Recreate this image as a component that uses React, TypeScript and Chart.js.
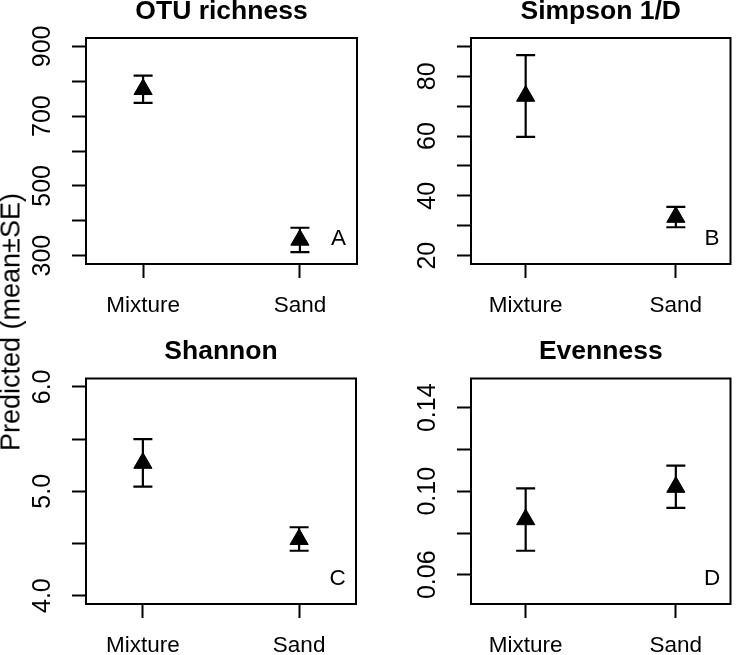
import React, { useEffect, useRef } from 'react';
import { Chart, registerables } from 'chart.js';

Chart.register(...registerables);

const FONT = "'Liberation Sans', Arial, Helvetica, sans-serif";

const categories = ['Mixture', 'Sand'];

const otuMean = [777, 345];
const otuLo = [738, 310];
const otuHi = [816, 380];
const otuTicks = [300, 400, 500, 600, 700, 800, 900];
const otuTickLabels = ['300', '500', '700', '900'];

const simpsonMean = [73.4, 32.9];
const simpsonLo = [59.7, 29.5];
const simpsonHi = [87.1, 36.3];
const simpsonTicks = [20, 30, 40, 50, 60, 70, 80, 90];
const simpsonTickLabels = ['20', '40', '60', '80'];

const shannonMean = [5.27, 4.54];
const shannonLo = [5.045, 4.43];
const shannonHi = [5.5, 4.655];
const shannonTicks = [4.0, 4.5, 5.0, 5.5, 6.0];
const shannonTickLabels = ['4.0', '5.0', '6.0'];

const evenMean = [0.0865, 0.102];
const evenLo = [0.0715, 0.092];
const evenHi = [0.1014, 0.1123];
const evenTicks = [0.06, 0.08, 0.1, 0.12, 0.14];
const evenTickLabels = ['0.06', '0.10', '0.14'];

const titles = ['OTU richness', 'Simpson 1/D', 'Shannon', 'Evenness'];
const letters = ['A', 'B', 'C', 'D'];
const yLimits = [
  [300, 900],
  [20, 90],
  [4, 6],
  [0.05, 0.15],
];
const xLimits = [0.7, 2.3];
const yLabel = 'Predicted (mean±SE)';

// R-style 4% axis extension
function ext(lim: number[]) {
  const d = (lim[1] - lim[0]) * 0.04;
  return [lim[0] - d, lim[1] + d];
}

const series = [
  { mean: otuMean, lo: otuLo, hi: otuHi, ticks: otuTicks, labels: otuTickLabels },
  { mean: simpsonMean, lo: simpsonLo, hi: simpsonHi, ticks: simpsonTicks, labels: simpsonTickLabels },
  { mean: shannonMean, lo: shannonLo, hi: shannonHi, ticks: shannonTicks, labels: shannonTickLabels },
  { mean: evenMean, lo: evenLo, hi: evenHi, ticks: evenTicks, labels: evenTickLabels },
];

// layout of the four canvases (left, top, width, height) and chart-area padding
const layouts = [
  { left: 0, top: 0, w: 371, h: 325, pad: { left: 86, top: 38, right: 14, bottom: 61 } },
  { left: 371, top: 0, w: 371, h: 325, pad: { left: 100, top: 38, right: 1.5, bottom: 61 } },
  { left: 0, top: 325, w: 371, h: 330, pad: { left: 86, top: 53.5, right: 15, bottom: 51 } },
  { left: 371, top: 325, w: 371, h: 330, pad: { left: 100, top: 53.5, right: 1.5, bottom: 51 } },
];

function Panel({ idx }: { idx: number }) {
  const ref = useRef<HTMLCanvasElement>(null);
  useEffect(() => {
    const s = series[idx];
    const lay = layouts[idx];
    const yr = ext(yLimits[idx]);
    const xr = ext(xLimits);
    const labelValues = s.labels.map((t) => parseFloat(t));

    const deco = {
      id: 'deco',
      beforeDatasetsDraw(chart: any) {
        const { ctx } = chart;
        const xs = chart.scales.x;
        const ys = chart.scales.y;
        ctx.save();
        ctx.strokeStyle = '#000';
        ctx.lineWidth = 2.2;
        ctx.lineCap = 'butt';
        s.mean.forEach((_m: number, i: number) => {
          const px = xs.getPixelForValue(i + 1);
          const pl = ys.getPixelForValue(s.lo[i]);
          const ph = ys.getPixelForValue(s.hi[i]);
          ctx.beginPath();
          ctx.moveTo(px, pl);
          ctx.lineTo(px, ph);
          ctx.moveTo(px - 9.5, pl);
          ctx.lineTo(px + 9.5, pl);
          ctx.moveTo(px - 9.5, ph);
          ctx.lineTo(px + 9.5, ph);
          ctx.stroke();
        });
        ctx.restore();
      },
      afterDraw(chart: any) {
        const { ctx, chartArea } = chart;
        const xs = chart.scales.x;
        const ys = chart.scales.y;
        ctx.save();
        // box
        ctx.strokeStyle = '#000';
        ctx.lineWidth = 2;
        ctx.strokeRect(chartArea.left, chartArea.top, chartArea.right - chartArea.left, chartArea.bottom - chartArea.top);
        ctx.fillStyle = '#000';
        // y tick labels (rotated)
        ctx.font = `25px ${FONT}`;
        ctx.textAlign = 'center';
        ctx.textBaseline = 'middle';
        s.labels.forEach((t: string, i: number) => {
          const py = ys.getPixelForValue(labelValues[i]);
          ctx.save();
          ctx.translate(chartArea.left - 42.5, py);
          ctx.rotate(-Math.PI / 2);
          ctx.fillText(t, 0, 0);
          ctx.restore();
        });
        // x labels
        ctx.font = `22.5px ${FONT}`;
        categories.forEach((c, i) => {
          ctx.fillText(c, xs.getPixelForValue(i + 1), chartArea.bottom + 42);
        });
        // letter
        ctx.font = `22.5px ${FONT}`;
        ctx.fillText(letters[idx], chartArea.right - 18.5, chartArea.bottom - 25);
        // title
        ctx.font = `bold 26.5px ${FONT}`;
        ctx.fillText(titles[idx], (chartArea.left + chartArea.right) / 2, chartArea.top - 26.5);
        ctx.restore();
      },
    };

    const chart = new Chart(ref.current!, {
      type: 'scatter',
      data: {
        datasets: [
          {
            data: s.mean.map((m: number, i: number) => ({ x: i + 1, y: m })),
            pointStyle: 'triangle',
            pointRadius: 10.5,
            pointHoverRadius: 10.5,
            backgroundColor: '#000',
            borderColor: '#000',
            borderWidth: 1,
          },
        ],
      },
      options: {
        responsive: false,
        maintainAspectRatio: false,
        animation: false,
        devicePixelRatio: 1,
        layout: { padding: lay.pad },
        plugins: { legend: { display: false }, tooltip: { enabled: false } },
        events: [],
        scales: {
          x: {
            type: 'linear',
            min: xr[0],
            max: xr[1],
            afterBuildTicks: (sc: any) => {
              sc.ticks = categories.map((_c, i) => ({ value: i + 1 }));
            },
            afterFit: (sc: any) => {
              sc.height = 0;
            },
            ticks: { display: false },
            border: { display: false },
            grid: {
              drawOnChartArea: false,
              drawTicks: true,
              tickLength: 14,
              tickWidth: 2,
              tickColor: '#000',
              color: '#000',
            },
          },
          y: {
            type: 'linear',
            min: yr[0],
            max: yr[1],
            afterBuildTicks: (sc: any) => {
              sc.ticks = s.ticks.map((v: number) => ({ value: v }));
            },
            afterFit: (sc: any) => {
              sc.width = 0;
            },
            ticks: { display: false },
            border: { display: false },
            grid: {
              drawOnChartArea: false,
              drawTicks: true,
              tickLength: 14,
              tickWidth: 2,
              tickColor: '#000',
              color: '#000',
            },
          },
        },
      },
      plugins: [deco],
    } as any);
    return () => chart.destroy();
  }, [idx]);
  const lay = layouts[idx];
  return (
    <canvas
      ref={ref}
      width={lay.w}
      height={lay.h}
      style={{ position: 'absolute', left: lay.left, top: lay.top, width: lay.w, height: lay.h, display: 'block' }}
    />
  );
}

export default function App() {
  return (
    <div style={{ position: 'absolute', left: 0, top: 0, width: 742, height: 655, background: '#fff', overflow: 'hidden' }}>
      {[0, 1, 2, 3].map((i) => (
        <Panel key={i} idx={i} />
      ))}
      <div
        style={{
          position: 'absolute',
          left: 11,
          top: 322,
          transform: 'translate(-50%, -50%) rotate(-90deg)',
          whiteSpace: 'nowrap',
          font: `27px ${FONT}`,
          lineHeight: '1',
          color: '#000',
        }}
      >
        {yLabel}
      </div>
    </div>
  );
}
